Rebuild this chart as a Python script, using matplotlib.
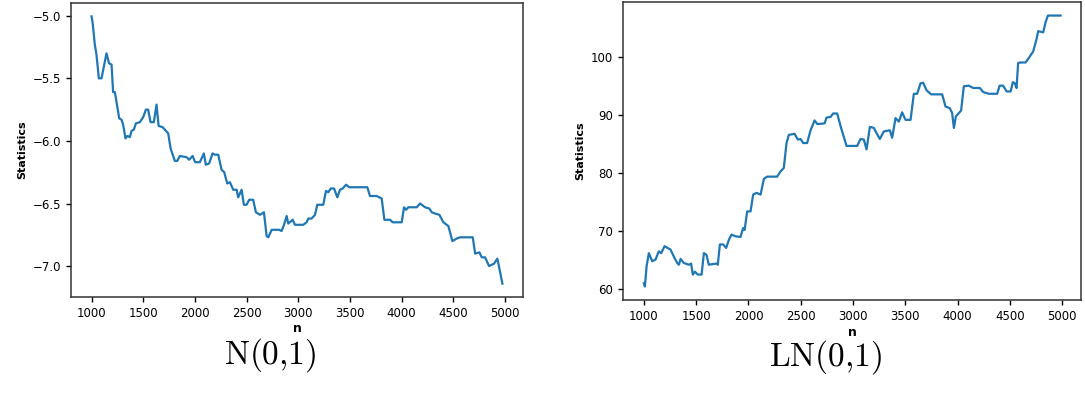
import matplotlib.pyplot as plt

plt.rcParams['mathtext.fontset'] = 'cm'

# N(0,1) statistic vs n
n_left = [1000, 1010, 1032, 1048, 1071, 1097, 1145, 1170, 1194, 1209, 1226, 1268, 1290, 1306,
          1329, 1348, 1371, 1387, 1410, 1429, 1468, 1500, 1526, 1548, 1571, 1603, 1629, 1649,
          1687, 1710, 1742, 1765, 1806, 1829, 1855, 1920, 1945, 1978, 2003, 2048, 2087, 2106,
          2138, 2171, 2194, 2226, 2258, 2284, 2313, 2339, 2371, 2404, 2419, 2452, 2474, 2500,
          2526, 2564, 2590, 2629, 2668, 2694, 2710, 2743, 2816, 2839, 2862, 2888, 2903, 2946,
          2968, 3016, 3048, 3081, 3097, 3129, 3162, 3184, 3242, 3268, 3291, 3314, 3346, 3378,
          3404, 3430, 3462, 3494, 3668, 3694, 3759, 3807, 3833, 3888, 3914, 4001, 4023, 4043,
          4065, 4146, 4178, 4227, 4268, 4291, 4323, 4365, 4404, 4452, 4491, 4533, 4565, 4688,
          4711, 4752, 4775, 4807, 4846, 4894, 4926, 4936, 4975]
stat_left = [-5.005, -5.05, -5.23, -5.31, -5.50, -5.50, -5.30, -5.38, -5.39, -5.61, -5.61, -5.82,
             -5.83, -5.87, -5.98, -5.96, -5.97, -5.92, -5.91, -5.86, -5.85, -5.81, -5.75, -5.75,
             -5.85, -5.85, -5.71, -5.88, -5.89, -5.91, -5.94, -6.06, -6.16, -6.16, -6.12, -6.13,
             -6.15, -6.12, -6.17, -6.17, -6.10, -6.19, -6.18, -6.10, -6.11, -6.11, -6.23, -6.25,
             -6.34, -6.33, -6.39, -6.39, -6.45, -6.39, -6.51, -6.51, -6.47, -6.47, -6.57, -6.59,
             -6.57, -6.76, -6.77, -6.71, -6.71, -6.72, -6.67, -6.60, -6.66, -6.63, -6.67, -6.67,
             -6.67, -6.65, -6.62, -6.62, -6.59, -6.51, -6.51, -6.40, -6.41, -6.38, -6.38, -6.45,
             -6.39, -6.38, -6.35, -6.37, -6.37, -6.44, -6.44, -6.46, -6.63, -6.63, -6.65, -6.65,
             -6.53, -6.55, -6.53, -6.53, -6.50, -6.53, -6.54, -6.57, -6.58, -6.59, -6.65, -6.68,
             -6.80, -6.78, -6.77, -6.77, -6.90, -6.89, -6.93, -6.93, -7.00, -6.98, -6.94, -6.98,
             -7.14]

# LN(0,1) statistic vs n
n_right = [1000, 1010, 1026, 1048, 1080, 1112, 1143, 1166, 1198, 1255, 1287, 1319, 1335, 1351,
           1382, 1430, 1452, 1468, 1488, 1516, 1552, 1574, 1599, 1621, 1653, 1695, 1707, 1727,
           1758, 1787, 1813, 1838, 1877, 1924, 1949, 1963, 1988, 2020, 2045, 2077, 2116, 2147,
           2179, 2274, 2307, 2338, 2364, 2386, 2441, 2472, 2498, 2523, 2561, 2594, 2632, 2657,
           2683, 2728, 2747, 2785, 2810, 2848, 2881, 2906, 2938, 3039, 3072, 3103, 3129, 3161,
           3199, 3225, 3256, 3294, 3352, 3374, 3406, 3438, 3469, 3502, 3550, 3581, 3613, 3645,
           3670, 3703, 3747, 3852, 3884, 3925, 3947, 3964, 3983, 4033, 4059, 4107, 4148, 4212,
           4244, 4298, 4378, 4401, 4435, 4468, 4506, 4528, 4547, 4563, 4578, 4601, 4649, 4681,
           4722, 4754, 4770, 4818, 4840, 4863, 4984]
stat_right = [61.0, 60.45, 63.9, 66.2, 64.8, 65.1, 66.5, 66.2, 67.4, 66.8, 65.6, 64.5, 64.2, 65.2,
              64.5, 64.2, 64.4, 62.5, 63.0, 62.5, 62.5, 66.2, 65.9, 64.2, 64.3, 64.4, 64.2, 67.7,
              67.7, 67.1, 68.5, 69.4, 69.1, 69.0, 70.5, 70.2, 73.4, 73.4, 76.3, 76.6, 76.3, 79.0,
              79.4, 79.4, 80.3, 80.9, 85.2, 86.6, 86.8, 85.8, 85.9, 85.2, 85.2, 87.4, 89.1, 88.5,
              88.5, 88.6, 89.6, 89.7, 90.3, 90.3, 88.1, 86.6, 84.7, 84.7, 85.9, 85.8, 84.1, 88.0,
              87.8, 86.9, 85.9, 87.2, 87.4, 86.1, 89.5, 88.9, 90.5, 89.2, 89.2, 93.7, 93.7, 95.5,
              95.6, 94.3, 93.6, 93.6, 91.5, 91.2, 90.4, 87.8, 89.8, 90.8, 95.0, 95.1, 94.7, 94.7,
              94.0, 93.7, 93.7, 95.1, 95.1, 94.1, 94.1, 95.7, 95.5, 94.7, 99.0, 99.1, 99.1, 99.9,
              101.0, 103.1, 104.5, 104.3, 106.0, 107.2, 107.2]

xticks = [1000, 1500, 2000, 2500, 3000, 3500, 4000, 4500, 5000]
captions = ["N(0{,}1)", "LN(0{,}1)"]

fig = plt.figure(figsize=(10.85, 4.0), dpi=100)
ax1 = fig.add_axes([0.0654, 0.2575, 0.4166, 0.735])
ax2 = fig.add_axes([0.5742, 0.25, 0.4225, 0.745])

for ax, n, s in [(ax1, n_left, stat_left), (ax2, n_right, stat_right)]:
    ax.plot(n, s, color='#1f77b4', linewidth=1.6)
    ax.set_xticks(xticks)
    ax.tick_params(labelsize=8.5, width=1.0, length=3.5)
    ax.set_xlabel("n", fontsize=9, fontweight='bold', labelpad=2)
    ax.set_ylabel("Statistics", fontsize=8, fontweight='bold', labelpad=4)
    for sp in ax.spines.values():
        sp.set_linewidth(1.1)
        sp.set_color('#333333')

ax1.set_yticks([-5.0, -5.5, -6.0, -6.5, -7.0])
ax2.set_yticks([60, 70, 80, 90, 100])

# captions under each panel
fig.text(0.249, 0.112, r"$\mathrm{" + captions[0] + "}$", fontsize=24, ha='center', va='center')
fig.text(0.761, 0.107, r"$\mathrm{" + captions[1] + "}$", fontsize=24, ha='center', va='center')

fig.savefig("out.png", dpi=100)
